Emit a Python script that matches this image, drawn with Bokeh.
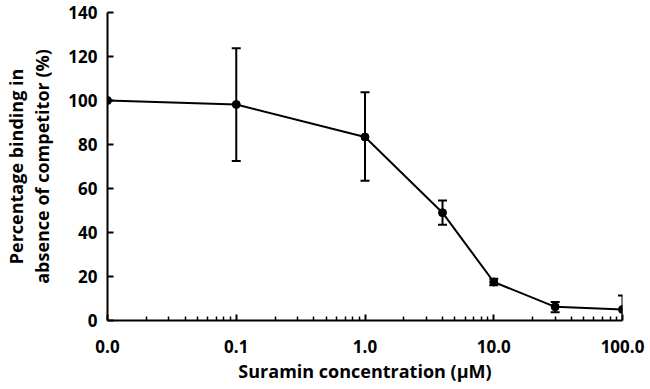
from bokeh.plotting import figure
from bokeh.models import FixedTicker, NumeralTickFormatter, Whisker, TeeHead, ColumnDataSource, Range1d
from bokeh.embed import file_html
from bokeh.resources import INLINE

# data
conc = [0.01, 0.1, 1.0, 4.0, 10.0, 30.0, 100.0]
binding = [100.0, 98.2, 83.4, 49.0, 17.5, 6.2, 5.0]
err_low = [100.0, 72.5, 63.5, 43.5, 16.0, 3.8, -1.4]
err_high = [100.0, 123.8, 103.8, 54.5, 19.0, 8.4, 11.4]
x_ticks = [0.01, 0.1, 1.0, 10.0, 100.0]
x_minor = [m * d for d in [0.01, 0.1, 1.0, 10.0] for m in range(2, 10)]
y_ticks = [0, 20, 40, 60, 80, 100, 120, 140]

FONT = "Open Sans"

src = ColumnDataSource(dict(x=conc, y=binding, lo=err_low, hi=err_high))

p = figure(width=650, height=389, x_axis_type="log",
           x_range=Range1d(0.01, 100), y_range=Range1d(0, 140),
           output_backend="svg", toolbar_location=None,
           min_border_left=106, min_border_right=28, min_border_top=12, min_border_bottom=69)
p.grid.visible = False
p.outline_line_color = None
p.background_fill_color = "white"

w = Whisker(source=src, base="x", lower="lo", upper="hi", line_color="black", line_width=2,
            lower_head=TeeHead(size=9, line_color="black", line_width=2),
            upper_head=TeeHead(size=9, line_color="black", line_width=2))
p.add_layout(w)
p.line("x", "y", source=src, line_color="black", line_width=2)
p.scatter("x", "y", source=src, size=8, color="black")

xa = p.xaxis[0]
xa.ticker = FixedTicker(ticks=x_ticks, minor_ticks=x_minor)
xa.formatter = NumeralTickFormatter(format="0.0")
ya = p.yaxis[0]
ya.ticker = FixedTicker(ticks=y_ticks)

for ax in (xa, ya):
    ax.axis_line_width = 2
    ax.axis_line_color = "black"
    ax.major_tick_in = 6
    ax.major_tick_out = 0
    ax.major_tick_line_width = 2
    ax.major_tick_line_color = "black"
    ax.major_label_text_font = FONT
    ax.major_label_text_font_style = "bold"
    ax.major_label_text_font_size = "17px"
    ax.major_label_text_color = "black"
    ax.axis_label_text_font = FONT
    ax.axis_label_text_font_style = "bold"
    ax.axis_label_text_font_size = "18px"
    ax.axis_label_text_color = "black"

xa.minor_tick_in = 4
xa.minor_tick_out = 0
xa.minor_tick_line_width = 1.5
xa.minor_tick_line_color = "black"
ya.minor_tick_line_color = None

xa.major_label_standoff = 19
ya.major_label_standoff = 10
xa.axis_label = "Suramin concentration (µM)"
xa.axis_label_standoff = 3
ya.axis_label = "Percentage binding in\nabsence of competitor (%)"
ya.axis_label_standoff = 11
ya.axis_label_text_line_height = 1.1

open("out.html", "w").write(file_html(p, INLINE))
